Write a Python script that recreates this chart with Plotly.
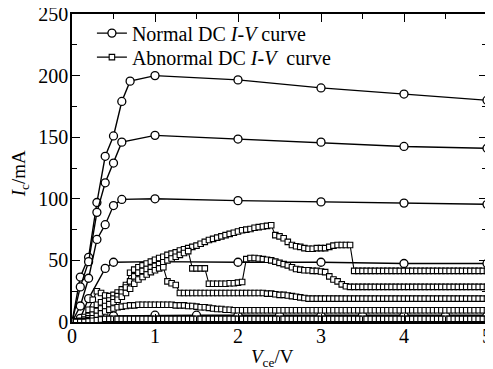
import plotly.graph_objects as go

# ---------------- data ----------------
# Normal DC I-V curves (circles)
N1_V = [0, 0.1, 0.2, 0.3, 0.4, 0.5, 0.6, 0.7, 1.0, 2.0, 3.0, 4.0, 5.0]
N1_I = [0, 36.5, 52.5, 97, 134.5, 151, 179, 195.5, 200, 196.5, 190, 185, 180]
N2_V = [0, 0.1, 0.2, 0.3, 0.4, 0.5, 0.6, 1.0, 2.0, 3.0, 4.0, 5.0]
N2_I = [0, 28.5, 49, 89, 113, 129, 146, 151.5, 148.5, 146, 142.5, 141]
N3_V = [0, 0.1, 0.2, 0.3, 0.4, 0.5, 0.6, 1.0, 2.0, 3.0, 4.0, 5.0]
N3_I = [0, 13, 35.5, 67, 79, 94.5, 99.5, 100, 98.5, 97.5, 96.5, 95.5]
N4_V = [0, 0.1, 0.2, 0.4, 0.5, 1.0, 2.0, 3.0, 4.0, 5.0]
N4_I = [0, 3, 19, 43.5, 48.5, 49, 48.5, 48.5, 47.5, 47.5]
N5_V = [0, 0.2, 0.5, 1.0, 1.5, 2.0, 2.5, 3.0, 3.5, 4.0, 4.5, 5.0]
N5_I = [0, 3, 5, 5.5, 5.5, 5.5, 5.5, 5.5, 5.5, 5.5, 5.5, 5.5]

# Abnormal DC I-V curves (squares), sampled every 0.05 V
ABN_V = [0.05, 0.10, 0.15, 0.20, 0.25, 0.30, 0.35, 0.40, 0.45, 0.50,
         0.55, 0.60, 0.65, 0.70, 0.75, 0.80, 0.85, 0.90, 0.95, 1.00,
         1.05, 1.10, 1.15, 1.20, 1.25, 1.30, 1.35, 1.40, 1.45, 1.50,
         1.55, 1.60, 1.65, 1.70, 1.75, 1.80, 1.85, 1.90, 1.95, 2.00,
         2.05, 2.10, 2.15, 2.20, 2.25, 2.30, 2.35, 2.40, 2.45, 2.50,
         2.55, 2.60, 2.65, 2.70, 2.75, 2.80, 2.85, 2.90, 2.95, 3.00,
         3.05, 3.10, 3.15, 3.20, 3.25, 3.30, 3.35, 3.40, 3.45, 3.50,
         3.55, 3.60, 3.65, 3.70, 3.75, 3.80, 3.85, 3.90, 3.95, 4.00,
         4.05, 4.10, 4.15, 4.20, 4.25, 4.30, 4.35, 4.40, 4.45, 4.50,
         4.55, 4.60, 4.65, 4.70, 4.75, 4.80, 4.85, 4.90, 4.95, 5.00]
ABN_A = [0.5, 1, 4, 10, 18, 25, 23.5, 21.5, 21, 22,
         24, 26.5, 30, 40, 42.5, 44.5, 46, 47.5, 49, 50.5,
         52, 53, 54.5, 55.5, 56.5, 58, 59, 60, 61, 62,
         63.5, 65, 66.5, 67.5, 68.5, 69.5, 70.5, 71.5, 72.5, 73.5,
         74.5, 75, 75.5, 76.5, 77, 77.5, 78, 78.5, 70.5, 69.5,
         68, 65, 62.5, 61.5, 61, 60, 59.5, 59.5, 60, 60,
         60, 61, 62, 62.5, 62.5, 62.5, 62.5, 41.5, 41.5, 41.5,
         41.5, 41.5, 41.5, 41.5, 41.5, 41.5, 41.5, 41.5, 41.5, 41.5,
         41.5, 41.5, 41.5, 41.5, 41.5, 41.5, 41.5, 41.5, 41.5, 41.5,
         41.5, 41.5, 41.5, 41.5, 41.5, 41.5, 41.5, 41.5, 41.5, 41.5]
ABN_B = [0, 0.5, 2, 5, 10, 14, 16, 17, 17.5, 19,
         21, 24, 28, 33, 37, 40, 41.5, 43, 44, 45.5,
         47, 48.5, 50, 51.5, 53, 54.5, 56, 57.5, 43.5, 43.5,
         43.5, 43.5, 31, 31, 31, 31, 31, 31.5, 31.5, 32,
         32.5, 51, 52, 52, 51.5, 51, 50.5, 50, 49, 48,
         47, 46, 44.5, 43, 42.5, 42, 42, 41.5, 41.5, 41,
         40.5, 37, 34.5, 33, 30.5, 29, 28.5, 28.5, 28.5, 28.5,
         28.5, 28.5, 28.5, 28.5, 28.5, 28.5, 28.5, 28.5, 28.5, 28.5,
         28.5, 28.5, 28.5, 28.5, 28.5, 28.5, 28.5, 28.5, 28.5, 28.5,
         28.5, 28.5, 28.5, 28.5, 28.5, 28.5, 28.5, 28.5, 28.5, 28.5]
ABN_C = [0, 0, 1, 3, 6, 9, 11, 13, 14.5, 16,
         18, 20.5, 23.5, 27, 31, 34.5, 36.5, 38.5, 40.5, 42,
         43.5, 44.5, 33, 31.5, 30, 23.5, 23.5, 23.5, 23.5, 23.5,
         23.5, 23.5, 23.5, 23.5, 23.5, 23.5, 23.5, 23.5, 23.5, 23.5,
         23.5, 23.5, 23.5, 23.5, 23.5, 23.5, 23, 23, 22.5, 22,
         22, 21.5, 21, 20.5, 20, 19.5, 19, 19, 19, 19,
         19, 19, 19, 19, 19, 19, 19, 19, 19, 19,
         19, 19, 19, 19, 19, 19, 19, 19, 19, 19,
         19, 19, 19, 19, 19, 19, 19, 19, 19, 19,
         19, 19, 19, 19, 19, 19, 19, 19, 19, 19]
ABN_D = [0, 0, 0.5, 1.5, 3, 5, 7, 8.5, 10, 11,
         12, 12.5, 13, 13.5, 13.5, 14, 14, 14, 14, 14,
         14, 14, 14, 14, 13.5, 13.5, 13.5, 13, 13, 12.5,
         12, 12, 11.5, 11, 10.5, 10.5, 10, 10, 9.5, 9.5,
         9.5, 9.5, 9.5, 9.5, 9.5, 9.5, 9.5, 9.5, 9.5, 9.5,
         9.5, 9.5, 9.5, 9.5, 9.5, 9.5, 9.5, 9.5, 9.5, 9.5,
         9.5, 9.5, 9.5, 9.5, 9.5, 9.5, 9.5, 9.5, 9.5, 9.5,
         9.5, 9.5, 9.5, 9.5, 9.5, 9.5, 9.5, 9.5, 9.5, 9.5,
         9.5, 9.5, 9.5, 9.5, 9.5, 9.5, 9.5, 9.5, 9.5, 9.5,
         9.5, 9.5, 9.5, 9.5, 9.5, 9.5, 9.5, 9.5, 9.5, 9.5]
ABN_E = [0, 0, 0, 0.5, 1, 1.5, 2, 2.5, 2.5, 2.5,
         2.5, 2.5, 2.5, 2.5, 2.5, 2.5, 2.5, 2.5, 2.5, 2.5,
         2.5, 2.5, 2.5, 2.5, 2.5, 2.5, 2.5, 2.5, 2.5, 2.5,
         2.5, 2.5, 2.5, 2.5, 2.5, 2.5, 2.5, 2.5, 2.5, 2.5,
         2.5, 2.5, 2.5, 2.5, 2.5, 2.5, 2.5, 2.5, 2.5, 2.5,
         2.5, 2.5, 2.5, 2.5, 2.5, 2.5, 2.5, 2.5, 2.5, 2.5,
         2.5, 2.5, 2.5, 2.5, 2.5, 2.5, 2.5, 2.5, 2.5, 2.5,
         2.5, 2.5, 2.5, 2.5, 2.5, 2.5, 2.5, 2.5, 2.5, 2.5,
         2.5, 2.5, 2.5, 2.5, 2.5, 2.5, 2.5, 2.5, 2.5, 2.5,
         2.5, 2.5, 2.5, 2.5, 2.5, 2.5, 2.5, 2.5, 2.5, 2.5]

X_TICKS = [0, 1, 2, 3, 4, 5]
Y_TICKS = [0, 50, 100, 150, 200, 250]

NORMAL_NAME = "Normal DC <i>I</i>-<i>V</i> curve"
ABNORMAL_NAME = "Abnormal DC <i>I</i>-<i>V</i>  curve"

FONT = "Liberation Serif"

fig = go.Figure()

normal = [(N1_V, N1_I), (N2_V, N2_I), (N3_V, N3_I), (N4_V, N4_I), (N5_V, N5_I)]
for k, (vx, iy) in enumerate(normal):
    fig.add_trace(go.Scatter(
        x=vx, y=iy, mode="lines+markers",
        name=NORMAL_NAME, legendgroup="n", showlegend=(k == 0), legend="legend",
        line=dict(color="black", width=1.4),
        marker=dict(symbol="circle", size=8, color="white",
                    line=dict(color="black", width=1.3)),
    ))

abnormal = [ABN_A, ABN_B, ABN_C, ABN_D, ABN_E]
for k, iy in enumerate(abnormal):
    fig.add_trace(go.Scatter(
        x=ABN_V, y=iy, mode="lines+markers",
        name=ABNORMAL_NAME, legendgroup="a", showlegend=(k == 0), legend="legend2",
        line=dict(color="black", width=1.1),
        marker=dict(symbol="square", size=5.5, color="white",
                    line=dict(color="black", width=1.1)),
    ))

axis_common = dict(
    showline=True, linecolor="black", linewidth=1.6, mirror="ticks",
    ticks="inside", ticklen=8, tickwidth=1.3, tickcolor="black",
    showgrid=False, zeroline=False, ticklabeloverflow="allow", automargin=True,
    tickfont=dict(family=FONT, size=20, color="black"),
)

fig.update_xaxes(range=[0, 5], tickvals=X_TICKS, ticklabelstandoff=-5,
                 minor=dict(dtick=0.5, ticks="inside", ticklen=5, tickwidth=1.3, tickcolor="black"),
                 **axis_common)
fig.update_yaxes(range=[0, 250], tickvals=Y_TICKS, ticklabelstandoff=-2,
                 minor=dict(dtick=25, ticks="inside", ticklen=5, tickwidth=1.3, tickcolor="black"),
                 **axis_common)

legend_common = dict(xanchor="left", yanchor="middle", bgcolor="rgba(0,0,0,0)",
                     borderwidth=0, font=dict(family=FONT, size=20, color="black"),
                     itemwidth=30)

# page body has an 8px margin, so the figure is 8px smaller than the window
fig.update_layout(
    width=485, height=361,
    margin=dict(l=64, r=6, t=6, b=47, autoexpand=False),
    paper_bgcolor="white", plot_bgcolor="white",
    font=dict(family=FONT, size=18, color="black"),
    legend=dict(x=0.048, y=0.938, **legend_common),
    legend2=dict(x=0.048, y=0.860, **legend_common),
    annotations=[
        dict(text="<i>I</i><sub>c</sub>/mA", textangle=-90,
             xref="paper", yref="paper", x=-0.125, y=0.48,
             xanchor="center", yanchor="middle", showarrow=False,
             font=dict(family=FONT, size=19, color="black")),
        dict(text="<i>V</i><sub>ce</sub>/V",
             xref="paper", yref="paper", x=0.482, y=-0.116,
             xanchor="center", yanchor="middle", showarrow=False,
             font=dict(family=FONT, size=19, color="black")),
    ],
)

fig.write_html("out.html")
